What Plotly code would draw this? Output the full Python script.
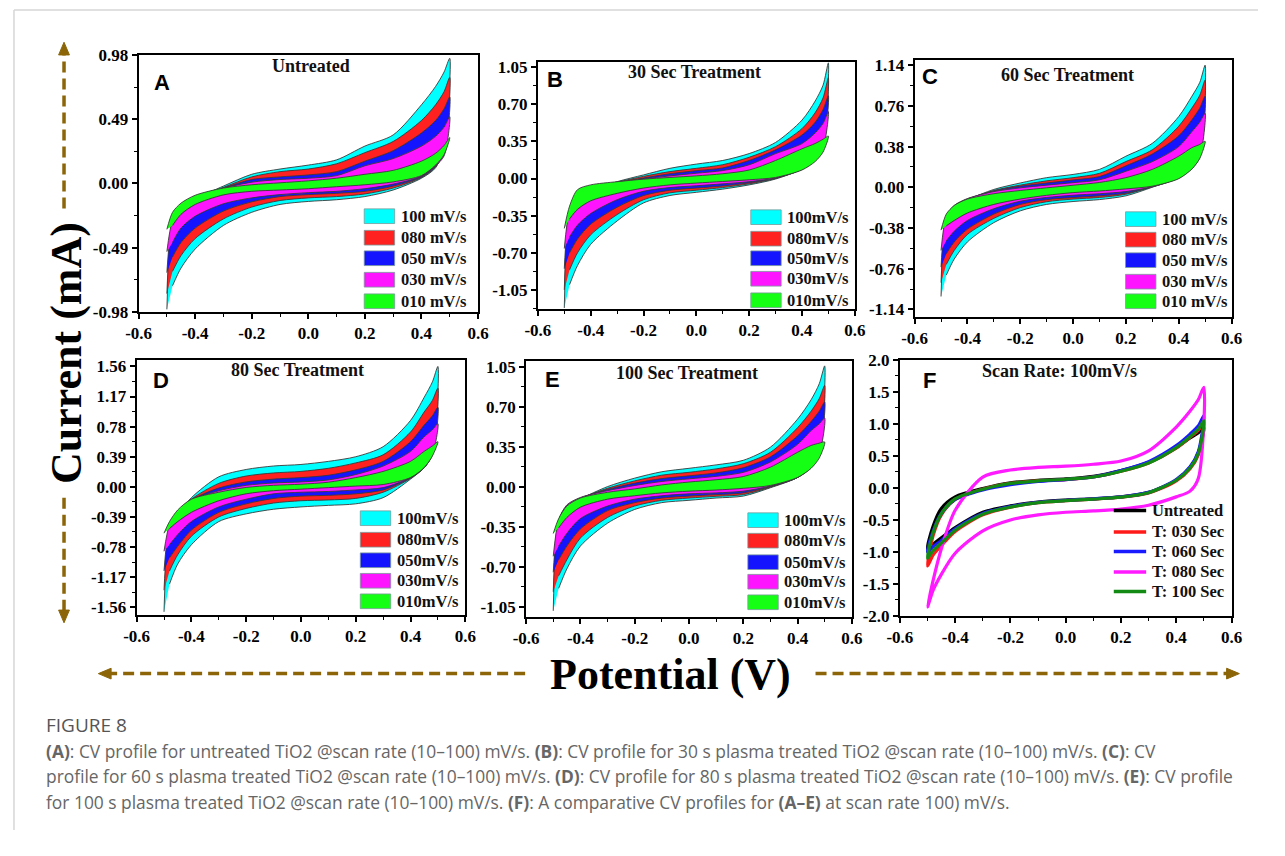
import plotly.graph_objects as go

# page size in the browser and the body inset used to place everything
PAGE_W, PAGE_H = 1285, 856
INSET = 8
W, H = PAGE_W - 2 * INSET, PAGE_H - 2 * INSET

# ---------------------------------------------------------------- data
# potential grid (V); forward sweep runs left->right, reverse sweep right->left
potential = [-0.5, -0.48, -0.45, -0.4, -0.3, -0.2, -0.1, 0.0, 0.1, 0.2, 0.3, 0.4, 0.45, 0.48, 0.5]

rate_labels_spaced = ["100 mV/s", "080 mV/s", "050 mV/s", "030 mV/s", "010 mV/s"]
rate_labels_compact = ["100mV/s", "080mV/s", "050mV/s", "030mV/s", "010mV/s"]
rate_colors = ["#00FFFF", "#FF2020", "#1414FF", "#FF14FF", "#14FF14"]

# currents (mA), one row per scan rate: 100, 80, 50, 30, 10 mV/s
untreated_fwd = [
    [-0.96, -0.34, -0.21, -0.12, -0.02, 0.07, 0.11, 0.14, 0.18, 0.285, 0.37, 0.60, 0.74, 0.85, 0.955],
    [-0.84, -0.32, -0.20, -0.115, -0.03, 0.05, 0.09, 0.11, 0.15, 0.235, 0.32, 0.48, 0.60, 0.70, 0.81],
    [-0.68, -0.30, -0.19, -0.11, -0.035, 0.03, 0.05, 0.065, 0.09, 0.17, 0.25, 0.385, 0.48, 0.57, 0.66],
    [-0.52, -0.28, -0.18, -0.10, -0.035, 0.01, 0.03, 0.04, 0.06, 0.135, 0.19, 0.285, 0.36, 0.43, 0.51],
    [-0.35, -0.22, -0.15, -0.09, -0.035, -0.01, 0.005, 0.02, 0.04, 0.07, 0.10, 0.17, 0.23, 0.29, 0.35],
]
untreated_rev = [
    [-0.96, -0.78, -0.645, -0.50, -0.32, -0.22, -0.16, -0.137, -0.124, -0.10, -0.05, 0.04, 0.12, 0.30, 0.955],
    [-0.84, -0.67, -0.55, -0.42, -0.27, -0.18, -0.13, -0.11, -0.10, -0.08, -0.035, 0.045, 0.125, 0.25, 0.81],
    [-0.68, -0.56, -0.45, -0.34, -0.21, -0.14, -0.10, -0.085, -0.075, -0.06, -0.02, 0.05, 0.13, 0.23, 0.66],
    [-0.52, -0.45, -0.34, -0.25, -0.155, -0.11, -0.085, -0.07, -0.06, -0.04, -0.005, 0.055, 0.135, 0.21, 0.51],
    [-0.35, -0.32, -0.235, -0.16, -0.087, -0.06, -0.05, -0.04, -0.025, -0.01, 0.012, 0.06, 0.14, 0.22, 0.35],
]

t30_fwd = [
    [-1.22, -0.36, -0.20, -0.12, -0.03, 0.034, 0.096, 0.136, 0.17, 0.235, 0.34, 0.55, 0.73, 0.88, 1.09],
    [-1.05, -0.34, -0.19, -0.11, -0.035, 0.02, 0.065, 0.096, 0.13, 0.20, 0.30, 0.47, 0.62, 0.76, 0.95],
    [-0.85, -0.32, -0.18, -0.10, -0.04, 0.005, 0.045, 0.074, 0.10, 0.17, 0.27, 0.41, 0.53, 0.65, 0.78],
    [-0.66, -0.30, -0.16, -0.09, -0.04, -0.005, 0.025, 0.05, 0.075, 0.13, 0.235, 0.33, 0.43, 0.52, 0.63],
    [-0.47, -0.26, -0.105, -0.06, -0.03, -0.006, 0.01, 0.025, 0.045, 0.08, 0.17, 0.28, 0.33, 0.37, 0.40],
]
t30_rev = [
    [-1.22, -1.00, -0.82, -0.62, -0.40, -0.23, -0.16, -0.13, -0.10, -0.06, -0.005, 0.09, 0.19, 0.33, 1.09],
    [-1.05, -0.86, -0.70, -0.53, -0.34, -0.20, -0.135, -0.11, -0.085, -0.05, 0.0, 0.09, 0.19, 0.31, 0.95],
    [-0.85, -0.70, -0.57, -0.43, -0.27, -0.16, -0.11, -0.09, -0.07, -0.04, 0.003, 0.09, 0.185, 0.30, 0.78],
    [-0.66, -0.55, -0.44, -0.33, -0.20, -0.12, -0.085, -0.068, -0.05, -0.03, 0.006, 0.085, 0.175, 0.28, 0.63],
    [-0.47, -0.38, -0.29, -0.21, -0.14, -0.09, -0.06, -0.043, -0.028, -0.012, 0.01, 0.08, 0.16, 0.25, 0.40],
]

t60_fwd = [
    [-1.02, -0.33, -0.20, -0.12, -0.02, 0.04, 0.09, 0.12, 0.167, 0.29, 0.41, 0.66, 0.85, 0.98, 1.14],
    [-0.89, -0.31, -0.19, -0.115, -0.03, 0.02, 0.06, 0.09, 0.13, 0.24, 0.35, 0.57, 0.74, 0.86, 1.00],
    [-0.745, -0.29, -0.18, -0.11, -0.035, 0.01, 0.04, 0.068, 0.10, 0.20, 0.31, 0.48, 0.63, 0.74, 0.85],
    [-0.59, -0.27, -0.17, -0.105, -0.04, -0.005, 0.02, 0.043, 0.07, 0.15, 0.24, 0.38, 0.52, 0.61, 0.69],
    [-0.40, -0.25, -0.17, -0.11, -0.06, -0.03, -0.005, 0.019, 0.045, 0.09, 0.167, 0.29, 0.37, 0.40, 0.43],
]
t60_rev = [
    [-1.02, -0.82, -0.67, -0.51, -0.33, -0.22, -0.16, -0.133, -0.115, -0.08, 0.0, 0.09, 0.19, 0.32, 1.14],
    [-0.89, -0.72, -0.59, -0.44, -0.29, -0.19, -0.135, -0.11, -0.095, -0.065, 0.005, 0.09, 0.18, 0.30, 1.00],
    [-0.745, -0.62, -0.51, -0.39, -0.25, -0.16, -0.115, -0.096, -0.08, -0.055, 0.005, 0.09, 0.18, 0.29, 0.85],
    [-0.59, -0.50, -0.41, -0.31, -0.20, -0.13, -0.095, -0.074, -0.06, -0.04, 0.005, 0.085, 0.175, 0.28, 0.69],
    [-0.40, -0.36, -0.31, -0.24, -0.16, -0.11, -0.075, -0.05, -0.035, -0.015, 0.01, 0.08, 0.17, 0.27, 0.43],
]

t80_fwd = [
    [-1.62, -0.58, -0.36, -0.14, 0.13, 0.225, 0.27, 0.29, 0.33, 0.39, 0.52, 0.86, 1.16, 1.36, 1.56],
    [-1.34, -0.55, -0.34, -0.16, 0.045, 0.14, 0.18, 0.20, 0.24, 0.31, 0.415, 0.71, 0.97, 1.12, 1.28],
    [-1.09, -0.52, -0.33, -0.17, -0.015, 0.064, 0.10, 0.12, 0.15, 0.22, 0.33, 0.585, 0.80, 0.92, 1.03],
    [-0.835, -0.49, -0.32, -0.17, -0.05, 0.02, 0.05, 0.064, 0.09, 0.16, 0.27, 0.46, 0.65, 0.74, 0.82],
    [-0.60, -0.45, -0.30, -0.16, -0.07, -0.008, 0.02, 0.034, 0.06, 0.12, 0.20, 0.33, 0.46, 0.53, 0.585],
]
t80_rev = [
    [-1.62, -1.26, -1.00, -0.75, -0.45, -0.35, -0.29, -0.26, -0.24, -0.22, -0.14, 0.10, 0.25, 0.45, 1.56],
    [-1.34, -1.09, -0.88, -0.64, -0.39, -0.28, -0.21, -0.18, -0.17, -0.15, -0.07, 0.11, 0.25, 0.43, 1.28],
    [-1.09, -0.92, -0.77, -0.56, -0.33, -0.22, -0.15, -0.12, -0.11, -0.09, -0.04, 0.115, 0.25, 0.42, 1.03],
    [-0.835, -0.75, -0.62, -0.45, -0.26, -0.16, -0.09, -0.07, -0.06, -0.04, -0.01, 0.12, 0.25, 0.41, 0.82],
    [-0.60, -0.54, -0.45, -0.33, -0.18, -0.09, -0.05, -0.03, -0.01, 0.01, 0.03, 0.12, 0.25, 0.40, 0.585],
]

t100_fwd = [
    [-1.087, -0.32, -0.19, -0.11, 0.0, 0.074, 0.13, 0.16, 0.19, 0.23, 0.345, 0.59, 0.76, 0.90, 1.056],
    [-0.92, -0.31, -0.18, -0.105, -0.015, 0.05, 0.10, 0.125, 0.155, 0.20, 0.30, 0.515, 0.66, 0.77, 0.885],
    [-0.75, -0.30, -0.17, -0.10, -0.025, 0.03, 0.07, 0.094, 0.12, 0.165, 0.26, 0.444, 0.57, 0.66, 0.74],
    [-0.61, -0.29, -0.16, -0.095, -0.035, 0.01, 0.045, 0.068, 0.09, 0.125, 0.216, 0.37, 0.49, 0.55, 0.60],
    [-0.41, -0.28, -0.17, -0.10, -0.05, -0.02, 0.015, 0.04, 0.06, 0.088, 0.17, 0.30, 0.36, 0.38, 0.39],
]
t100_rev = [
    [-1.087, -0.89, -0.72, -0.52, -0.32, -0.20, -0.14, -0.12, -0.10, -0.083, -0.01, 0.08, 0.18, 0.32, 1.056],
    [-0.92, -0.78, -0.64, -0.45, -0.27, -0.17, -0.12, -0.10, -0.085, -0.07, -0.005, 0.08, 0.175, 0.31, 0.885],
    [-0.75, -0.64, -0.52, -0.37, -0.21, -0.14, -0.10, -0.083, -0.07, -0.055, 0.0, 0.08, 0.17, 0.30, 0.74],
    [-0.61, -0.52, -0.41, -0.28, -0.17, -0.11, -0.08, -0.063, -0.055, -0.04, 0.005, 0.08, 0.165, 0.28, 0.60],
    [-0.41, -0.36, -0.27, -0.18, -0.11, -0.08, -0.055, -0.04, -0.03, -0.015, 0.01, 0.08, 0.16, 0.25, 0.39],
]

# comparison at 100 mV/s
treatment_labels = ["Untreated", "T: 030 Sec", "T: 060 Sec", "T: 080 Sec", "T: 100 Sec"]
treatment_colors = ["#000000", "#FF1A1A", "#1A1AFF", "#FF1AFF", "#138A13"]
compare_fwd = [
    [-0.95, -0.60, -0.32, -0.14, -0.01, 0.08, 0.12, 0.14, 0.18, 0.27, 0.40, 0.63, 0.78, 0.86, 0.95],
    [-1.22, -0.75, -0.42, -0.18, -0.02, 0.07, 0.11, 0.13, 0.17, 0.26, 0.39, 0.62, 0.79, 0.90, 1.03],
    [-1.00, -0.68, -0.40, -0.18, -0.03, 0.05, 0.10, 0.13, 0.17, 0.27, 0.41, 0.66, 0.84, 0.97, 1.13],
    [-1.86, -1.45, -0.95, -0.35, 0.17, 0.28, 0.32, 0.34, 0.37, 0.42, 0.58, 0.95, 1.20, 1.38, 1.57],
    [-1.10, -0.70, -0.40, -0.17, -0.02, 0.07, 0.11, 0.135, 0.17, 0.26, 0.39, 0.63, 0.80, 0.92, 1.05],
]
compare_rev = [
    [-0.95, -0.88, -0.78, -0.62, -0.38, -0.28, -0.22, -0.19, -0.17, -0.14, -0.07, 0.12, 0.32, 0.55, 0.95],
    [-1.22, -1.05, -0.90, -0.68, -0.42, -0.30, -0.23, -0.20, -0.175, -0.145, -0.08, 0.11, 0.30, 0.52, 1.03],
    [-1.00, -0.92, -0.82, -0.64, -0.40, -0.29, -0.225, -0.195, -0.17, -0.14, -0.07, 0.13, 0.33, 0.57, 1.13],
    [-1.86, -1.60, -1.35, -1.02, -0.67, -0.50, -0.42, -0.38, -0.36, -0.33, -0.27, -0.14, -0.05, 0.15, 1.57],
    [-1.10, -0.98, -0.86, -0.66, -0.41, -0.30, -0.23, -0.20, -0.175, -0.145, -0.075, 0.12, 0.31, 0.54, 1.05],
]

x_ticks = [-0.6, -0.4, -0.2, 0.0, 0.2, 0.4, 0.6]
y_ticks_a = [-0.98, -0.49, 0.0, 0.49, 0.98]
y_ticks_b = [-1.05, -0.70, -0.35, 0.0, 0.35, 0.70, 1.05]
y_ticks_c = [-1.14, -0.76, -0.38, 0.0, 0.38, 0.76, 1.14]
y_ticks_d = [-1.56, -1.17, -0.78, -0.39, 0.0, 0.39, 0.78, 1.17, 1.56]
y_ticks_e = [-1.05, -0.70, -0.35, 0.0, 0.35, 0.70, 1.05]
y_ticks_f = [-2.0, -1.5, -1.0, -0.5, 0.0, 0.5, 1.0, 1.5, 2.0]

# ---------------------------------------------------------------- layout helpers
def px(x):
    return (x - INSET) / W


def py(y):
    return 1 - (y - INSET) / H


SERIF = "Liberation Serif, Times New Roman, serif"
SANS = "Liberation Sans, Arial, sans-serif"
ARROW = "#8B6508"

panels = [
    dict(letter="A", title="Untreated", fwd=untreated_fwd, rev=untreated_rev, labels=rate_labels_spaced,
         yr=[-0.98, 0.98], yt=y_ticks_a, fmt="{:.2f}", box=(136, 482, 55, 318),
         letter_xy=(160, 83), title_xy=(312, 66), leg=(366, [220, 242, 263, 285, 307])),
    dict(letter="B", title="30 Sec Treatment", fwd=t30_fwd, rev=t30_rev, labels=rate_labels_compact,
         yr=[-1.23, 1.10], yt=y_ticks_b, fmt="{:.2f}", box=(543, 866, 62, 315),
         letter_xy=(560, 80), title_xy=(703, 72), leg=(760, [221, 243, 263, 284, 306])),
    dict(letter="C", title="60 Sec Treatment", fwd=t60_fwd, rev=t60_rev, labels=rate_labels_spaced,
         yr=[-1.21, 1.19], yt=y_ticks_c, fmt="{:.2f}", box=(927, 1250, 60, 323),
         letter_xy=(943, 77), title_xy=(1083, 76), leg=(1142, [223, 244, 265, 287, 307])),
    dict(letter="D", title="80 Sec Treatment", fwd=t80_fwd, rev=t80_rev, labels=rate_labels_compact,
         yr=[-1.66, 1.645], yt=y_ticks_d, fmt="{:.2f}", box=(134, 469, 367, 628),
         letter_xy=(159, 388), title_xy=(298, 377), leg=(362, [529, 551, 572, 593, 614])),
    dict(letter="E", title="100 Sec Treatment", fwd=t100_fwd, rev=t100_rev, labels=rate_labels_compact,
         yr=[-1.14, 1.10], yt=y_ticks_e, fmt="{:.2f}", box=(531, 863, 368, 630),
         letter_xy=(558, 387), title_xy=(695, 380), leg=(757, [531, 552, 574, 594, 615])),
    dict(letter="F", title="Scan Rate: 100mV/s", fwd=compare_fwd, rev=compare_rev, labels=treatment_labels,
         yr=[-2.0, 2.0], yt=y_ticks_f, fmt="{:.1f}", box=(912, 1250, 367, 629),
         letter_xy=(942, 388), title_xy=(1075, 378), leg=(1130, [521, 543, 563, 584, 604])),
]

fig = go.Figure()
shapes = []
annotations = []
tick_font = dict(family=SERIF, size=17, color="black", weight="bold")

for i, p in enumerate(panels):
    n = "" if i == 0 else str(i + 1)
    xa, ya = "x" + n, "y" + n
    x0, x1, y0, y1 = p["box"]

    for k in range(5):
        fwd, rev = p["fwd"][k], p["rev"][k]
        xs = potential + potential[::-1][1:-1]
        ys = fwd + rev[::-1][1:-1]
        if p["letter"] == "F":
            fig.add_trace(go.Scatter(
                x=xs + [xs[0]], y=ys + [ys[0]], mode="lines", xaxis=xa, yaxis=ya, showlegend=False,
                line=dict(color=treatment_colors[k], width=3.2, shape="spline", smoothing=0.8),
                hoverinfo="skip"))
        else:
            fig.add_trace(go.Scatter(
                x=xs, y=ys, mode="lines", fill="toself", fillcolor=rate_colors[k],
                xaxis=xa, yaxis=ya, showlegend=False,
                line=dict(color="#3a3a3a", width=0.9, shape="spline", smoothing=0.8),
                hoverinfo="skip"))

    fig.update_layout(**{
        ("xaxis" + n): dict(
            domain=[px(x0), px(x1)], anchor=ya, range=[-0.6, 0.6],
            tickmode="array", tickvals=x_ticks, ticktext=["{:.1f}".format(v) for v in x_ticks],
            ticks="outside", ticklen=5, tickwidth=1.5, tickcolor="black",
            minor=dict(ticks="outside", ticklen=3, tickwidth=1.2, tickcolor="black", dtick=0.1, tick0=0),
            showline=True, linecolor="black", linewidth=1.8, mirror=True,
            showgrid=False, zeroline=False, tickfont=tick_font, fixedrange=True),
        ("yaxis" + n): dict(
            domain=[py(y1), py(y0)], anchor=xa, range=p["yr"],
            tickmode="array", tickvals=p["yt"], ticktext=[p["fmt"].format(v) for v in p["yt"]],
            ticks="outside", ticklen=5, tickwidth=1.5, tickcolor="black",
            minor=dict(ticks="outside", ticklen=3, tickwidth=1.2, tickcolor="black",
                       dtick=(p["yt"][1] - p["yt"][0]) / 2, tick0=0),
            showline=True, linecolor="black", linewidth=1.8, mirror=True,
            showgrid=False, zeroline=False, tickfont=tick_font, fixedrange=True),
    })

    # panel letter and heading
    annotations.append(dict(text=p["letter"], x=px(p["letter_xy"][0]), y=py(p["letter_xy"][1]),
                            xref="paper", yref="paper", showarrow=False, xanchor="center", yanchor="middle",
                            font=dict(family=SANS, size=22, color="black", weight="bold")))
    annotations.append(dict(text=p["title"], x=px(p["title_xy"][0]), y=py(p["title_xy"][1]),
                            xref="paper", yref="paper", showarrow=False, xanchor="center", yanchor="middle",
                            font=dict(family=SERIF, size=18, color="#111", weight="bold")))

    # key inside the panel
    lx, rows = p["leg"]
    for k, ry in enumerate(rows):
        if p["letter"] == "F":
            shapes.append(dict(type="line", xref="paper", yref="paper",
                               x0=px(lx), x1=px(lx + 33), y0=py(ry), y1=py(ry),
                               line=dict(color=treatment_colors[k], width=3.5)))
            tx = lx + 37
        else:
            shapes.append(dict(type="rect", xref="paper", yref="paper",
                               x0=px(lx), x1=px(lx + 31), y0=py(ry + 7.5), y1=py(ry - 7.5),
                               fillcolor=rate_colors[k], line=dict(color="#7a9a9a", width=0.8)))
            tx = lx + 35
        annotations.append(dict(text=p["labels"][k], x=px(tx), y=py(ry), xref="paper", yref="paper",
                                showarrow=False, xanchor="left", yanchor="middle",
                                font=dict(family=SERIF, size=16.5, color="#111", weight="bold")))

# shared axis titles
annotations.append(dict(text="Current (mA)", x=px(62), y=py(360), xref="paper", yref="paper",
                        showarrow=False, textangle=-90, xanchor="center", yanchor="middle",
                        font=dict(family=SERIF, size=44, color="black", weight="bold")))
annotations.append(dict(text="Potential (V)", x=px(678), y=py(689), xref="paper", yref="paper",
                        showarrow=False, xanchor="center", yanchor="middle",
                        font=dict(family=SERIF, size=44, color="black", weight="bold")))

# dashed direction arrows
def dashed(xa0, ya0, xa1, ya1):
    shapes.append(dict(type="line", xref="paper", yref="paper",
                       x0=px(xa0), y0=py(ya0), x1=px(xa1), y1=py(ya1),
                       line=dict(color=ARROW, width=3.5, dash="11px,6px")))


def head(points):
    path = "M " + " L ".join("{:.5f},{:.5f}".format(px(a), py(b)) for a, b in points) + " Z"
    shapes.append(dict(type="path", xref="paper", yref="paper", path=path,
                       fillcolor=ARROW, line=dict(color=ARROW, width=1)))


dashed(60, 212, 60, 54)
head([(60, 42), (54.5, 55), (65.5, 55)])
dashed(60, 508, 60, 624)
head([(60, 636), (54.5, 623), (65.5, 623)])
dashed(530, 688, 107, 688)
head([(95, 688), (108, 682.5), (108, 693.5)])
dashed(826, 688, 1246, 688)
head([(1258, 688), (1245, 682.5), (1245, 693.5)])

# page frame
shapes.append(dict(type="line", xref="paper", yref="paper", x0=px(9), x1=1, y0=py(9), y1=py(9),
                   line=dict(color="#d6d6d6", width=1.5)))
shapes.append(dict(type="line", xref="paper", yref="paper", x0=px(9), x1=px(9), y0=py(9), y1=0,
                   line=dict(color="#d6d6d6", width=1.5)))

# caption
CAP = "Open Sans, Noto Sans, sans-serif"
annotations.append(dict(text="FIGURE 8", x=px(40), y=py(741), xref="paper", yref="paper",
                        showarrow=False, xanchor="left", yanchor="middle",
                        font=dict(family=CAP, size=19, color="#555555")))
caption_lines = [
    "<b>(A)</b>: CV profile for untreated TiO2 @scan rate (10\u2013100) mV/s. <b>(B)</b>: CV profile for 30 s plasma treated TiO2 @scan rate (10\u2013100) mV/s. <b>(C)</b>: CV",
    "profile for 60 s plasma treated TiO2 @scan rate (10\u2013100) mV/s. <b>(D)</b>: CV profile for 80 s plasma treated TiO2 @scan rate (10\u2013100) mV/s. <b>(E)</b>: CV profile",
    "for 100 s plasma treated TiO2 @scan rate (10\u2013100) mV/s. <b>(F)</b>: A comparative CV profiles for <b>(A\u2013E)</b> at scan rate 100) mV/s.",
]
for j, line in enumerate(caption_lines):
    annotations.append(dict(text=line, x=px(40), y=py(767 + 26 * j), xref="paper", yref="paper",
                            showarrow=False, xanchor="left", yanchor="middle",
                            font=dict(family=CAP, size=17.4, color="#666666")))

fig.update_layout(width=W, height=H, margin=dict(l=0, r=0, t=0, b=0),
                  paper_bgcolor="white", plot_bgcolor="white",
                  shapes=shapes, annotations=annotations, showlegend=False)

fig.write_html("out.html")
